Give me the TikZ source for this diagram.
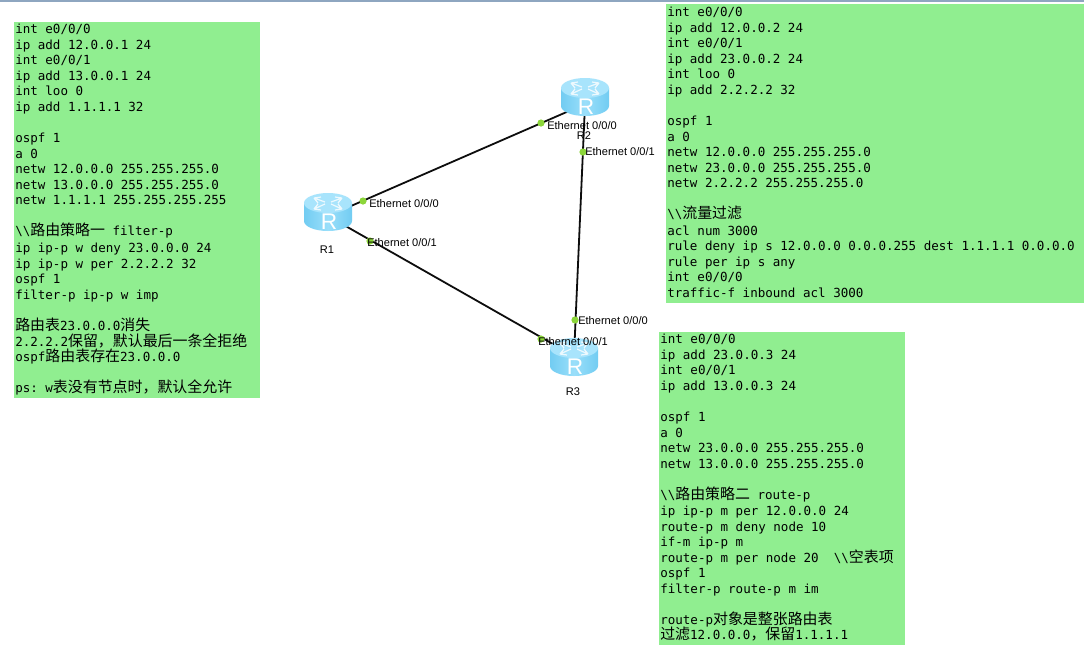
\documentclass[tikz,border=0pt]{standalone}
\usepackage{fontspec}
\setmainfont{Liberation Sans}
\setmonofont{DejaVu Sans Mono}
\newfontfamily\cjk{Noto Sans CJK SC}
\definecolor{panelgreen}{HTML}{90EE90}
\definecolor{portgreen}{HTML}{8CD63A}
\definecolor{rtop}{HTML}{A8E4FC}
\definecolor{rside}{HTML}{72CCF2}
\definecolor{rmid}{HTML}{9ADFFA}
\definecolor{strip}{HTML}{8EA6C0}
\newcommand{\zh}[1]{{\cjk\fontsize{11.2pt}{11.6pt}\selectfont #1}}
\newcommand{\routericon}[2]{%
  \begin{scope}[shift={(#1,#2)}]
    \path[left color=rside,right color=rside,middle color=rmid]
      (-24,-9) -- (-24,9) arc[start angle=180,end angle=0,x radius=24,y radius=10]
      -- (24,-9) -- cycle;
    \path[fill=rtop] (0,-9) ellipse[x radius=24,y radius=10];
    \draw[white,line width=0.9pt,opacity=.8]
      (-14,-14) -- (-3,-10) (-14,-14) -- (-10,-9) (-14,-14) -- (-7,-15)
      (14,-14) -- (3,-10) (14,-14) -- (7,-15) (14,-14) -- (10,-9)
      (-14,-3) -- (-3,-8) (-14,-3) -- (-7,-2) (-14,-3) -- (-10,-8)
      (14,-3) -- (3,-8) (14,-3) -- (7,-2) (14,-3) -- (10,-8);
    \node[rletter] at (1,10) {R};
  \end{scope}}
\tikzset{
  x=0.75pt,y=-0.75pt,
  panel/.style={fill=panelgreen,draw=none,inner sep=0,anchor=north west},
  code/.style={anchor=north west,inner sep=0,align=left,
    font=\ttfamily\fontsize{9.4pt}{11.66pt}\selectfont},
  router/.style={inner sep=0,minimum width=36pt,minimum height=28pt},
  rletter/.style={text=white,inner sep=0,font=\fontsize{17pt}{17pt}\selectfont},
  link/.style={line width=1.35pt,black!95},
  port/.style={circle,fill=portgreen,inner sep=0,minimum size=5.4pt},
  portlabel/.style={anchor=west,inner sep=0,font=\fontsize{8.3pt}{9pt}\selectfont},
  rname/.style={inner sep=0,font=\fontsize{8.3pt}{9pt}\selectfont},
}
\begin{document}
\begin{tikzpicture}
\useasboundingbox (0,0) rectangle (1084,651);
\path[fill=white] (0,0) rectangle (1084,651);
\path[fill=strip] (0,0) rectangle (1084,1.6);

\node[panel,minimum width=184.5pt,minimum height=282pt] (pa) at (14,22) {};
\node[panel,minimum width=313.5pt,minimum height=224.25pt] (pb) at (666,4) {};
\node[panel,minimum width=184.5pt,minimum height=234.75pt] (pc) at (659,332) {};

\node[code] (ta) at (15,24) {int e0/0/0\\
ip add 12.0.0.1 24\\
int e0/0/1\\
ip add 13.0.0.1 24\\
int loo 0\\
ip add 1.1.1.1 32\\
~\\
ospf 1\\
a 0\\
netw 12.0.0.0 255.255.255.0\\
netw 13.0.0.0 255.255.255.0\\
netw 1.1.1.1 255.255.255.255\\
~\\
\textbackslash\textbackslash\zh{路由策略一} filter-p\\[1pt]
ip ip-p w deny 23.0.0.0 24\\
ip ip-p w per 2.2.2.2 32\\
ospf 1\\
filter-p ip-p w imp\\
~\\
\zh{路由表}23.0.0.0\zh{消失}\\
2.2.2.2\zh{保留，默认最后一条全拒绝}\\
ospf\zh{路由表存在}23.0.0.0\\
~\\
ps: w\zh{表没有节点时，默认全允许}};

\node[code] (tb) at (667,7) {int e0/0/0\\
ip add 12.0.0.2 24\\
int e0/0/1\\
ip add 23.0.0.2 24\\
int loo 0\\
ip add 2.2.2.2 32\\
~\\
ospf 1\\
a 0\\
netw 12.0.0.0 255.255.255.0\\
netw 23.0.0.0 255.255.255.0\\
netw 2.2.2.2 255.255.255.0\\
~\\
\textbackslash\textbackslash\zh{流量过滤}\\[0.5pt]
acl num 3000\\
rule deny ip s 12.0.0.0 0.0.0.255 dest 1.1.1.1 0.0.0.0\\
rule per ip s any\\
int e0/0/0\\
traffic-f inbound acl 3000};

\node[code] (tc) at (660,334) {int e0/0/0\\
ip add 23.0.0.3 24\\
int e0/0/1\\
ip add 13.0.0.3 24\\
~\\
ospf 1\\
a 0\\
netw 23.0.0.0 255.255.255.0\\
netw 13.0.0.0 255.255.255.0\\
~\\
\textbackslash\textbackslash\zh{路由策略二} route-p\\[0.5pt]
ip ip-p m per 12.0.0.0 24\\
route-p m deny node 10\\
if-m ip-p m\\
route-p m per node 20\ \ \textbackslash\textbackslash\zh{空表项}\\
ospf 1\\
filter-p route-p m im\\
~\\
route-p\zh{对象是整张路由表}\\
\zh{过滤}12.0.0.0\zh{，保留}1.1.1.1};

\node[router] (R1) at (328,216) {};
\node[router] (R2) at (585,104) {};
\node[router] (R3) at (574,356) {};
\draw[link] (R1.center) -- (R2.center);
\draw[link] (R1.center) -- (R3.center);
\draw[link] (R2.center) -- (R3.center);
\routericon{328}{212}
\routericon{585}{97}
\routericon{574}{357}

\node[rname] (n1) at (327,250) {R1};
\node[rname] (n2) at (584,136) {R2};
\node[rname] (n3) at (573,392) {R3};

\node[port] (d1) at (363,201) {};
\node[port] (d2) at (370,241) {};
\node[port] (d3) at (541,123) {};
\node[port] (d4) at (583,152) {};
\node[port] (d5) at (575,320) {};
\node[port] (d6) at (541,339) {};
\node[portlabel] (l1) at (369,204) {Ethernet 0/0/0};
\node[portlabel] (l2) at (367,243) {Ethernet 0/0/1};
\node[portlabel] (l3) at (547,126) {Ethernet 0/0/0};
\node[portlabel] (l4) at (585,152) {Ethernet 0/0/1};
\node[portlabel] (l5) at (578,321) {Ethernet 0/0/0};
\node[portlabel] (l6) at (538,342) {Ethernet 0/0/1};
\end{tikzpicture}
\end{document}
